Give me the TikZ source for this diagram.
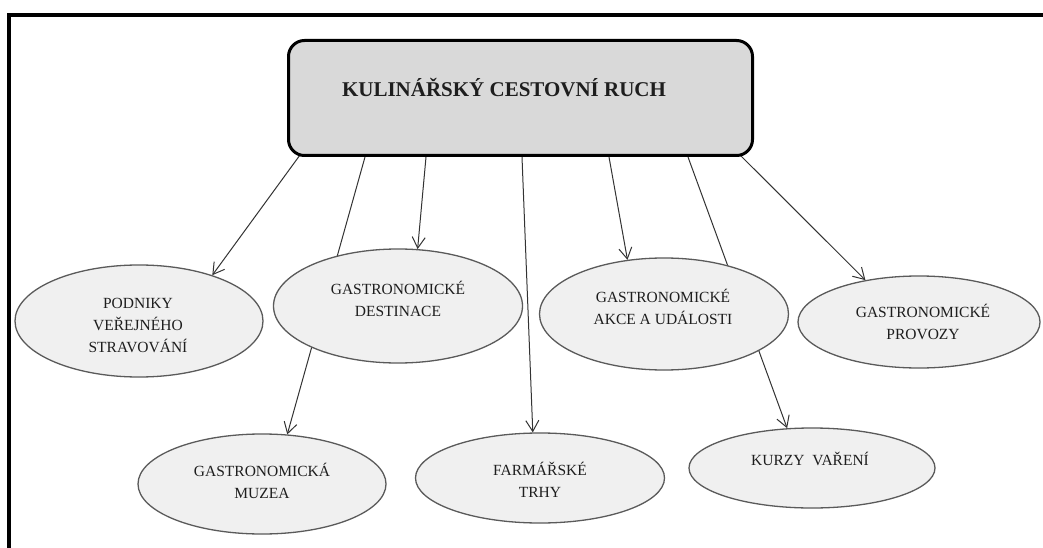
\documentclass[tikz,border=0pt]{standalone}
\usepackage{fontspec}
\setmainfont{Liberation Serif}
\usetikzlibrary{shapes.geometric,arrows.meta}
\definecolor{boxfill}{HTML}{D9D9D9}
\definecolor{ovalfill}{HTML}{F0F0F0}
\definecolor{ovalline}{HTML}{5A5A5A}
\definecolor{linecol}{HTML}{333333}
\definecolor{txtcol}{HTML}{1E1E1E}
\pgfdeclarelayer{bg}
\pgfsetlayers{bg,main}
\begin{document}
\begin{tikzpicture}[x=1pt,y=-1pt,
  mainbox/.style={draw=black, line width=3pt, rounded corners=16pt, fill=boxfill,
    minimum width=464pt, minimum height=115pt, inner sep=0pt},
  title/.style={font=\bfseries\fontsize{21}{25}\selectfont, text=txtcol},
  oval/.style={ellipse, draw=ovalline, fill=ovalfill, line width=1.3pt, inner sep=0pt},
  txt/.style={align=center, font=\fontsize{15.5}{22}\selectfont, text=txtcol, inner sep=0pt},
  conn/.style={draw=linecol, line width=1pt},
  arr/.style={conn, -{Straight Barb[length=11pt,width=13pt,line width=1pt]}}
]
\useasboundingbox (0,0) rectangle (1043,548);
\begin{pgfonlayer}{bg}
  \fill[white] (0,0) rectangle (1043,548);
\end{pgfonlayer}
\begin{scope}
  \clip (0,0) rectangle (1043,548);
  \draw[line width=4pt] (9,15) rectangle (1080,590);
\end{scope}

% central box
\node[mainbox] (top) at (520.5,98) {};
\node[title] (topT) at (504,88) {KULINÁŘSKÝ CESTOVNÍ RUCH};

% ellipses
\node[oval, minimum width=248pt, minimum height=112pt] (pod) at (139,321) {};
\node[txt] (podT) at (138,325) {PODNIKY\\VEŘEJNÉHO\\STRAVOVÁNÍ};

\node[oval, minimum width=249pt, minimum height=114pt] (dest) at (398,306) {};
\node[txt] (destT) at (398,299) {GASTRONOMICKÉ\\DESTINACE};

\node[oval, minimum width=249pt, minimum height=112pt] (akce) at (664,314) {};
\node[txt] (akceT) at (663,307) {GASTRONOMICKÉ\\AKCE A UDÁLOSTI};

\node[oval, minimum width=242pt, minimum height=92pt] (prov) at (919,322) {};
\node[txt] (provT) at (923,322) {GASTRONOMICKÉ\\PROVOZY};

\node[oval, minimum width=248pt, minimum height=100pt] (muz) at (262,484) {};
\node[txt] (muzT) at (262,481) {GASTRONOMICKÁ\\MUZEA};

\node[oval, minimum width=249pt, minimum height=90pt] (farm) at (540,478) {};
\node[txt] (farmT) at (540,479.5) {FARMÁŘSKÉ\\TRHY};

\node[oval, minimum width=246pt, minimum height=80pt] (kurz) at (812,468) {};
\node[txt] (kurzT) at (810,459) {KURZY\ \ VAŘENÍ};

% connectors (drawn beneath the nodes)
\begin{pgfonlayer}{bg}
  \draw[arr] ([xshift=-220.5pt,yshift=2pt]top.south) -- (pod.32);
  \draw[arr] ([xshift=-155.5pt]top.south) -- (muz.63);
  \draw[arr] ([xshift=-94.5pt]top.south) -- (dest.71);
  \draw[arr] ([xshift=1.5pt]top.south) -- (farm.99);
  \draw[arr] ([xshift=88.5pt]top.south) -- (akce.124);
  \draw[arr] ([xshift=167.5pt]top.south) -- (kurz.122);
  \draw[arr] ([xshift=219.5pt,yshift=2pt]top.south) -- (prov.142);
\end{pgfonlayer}
\end{tikzpicture}
\end{document}
